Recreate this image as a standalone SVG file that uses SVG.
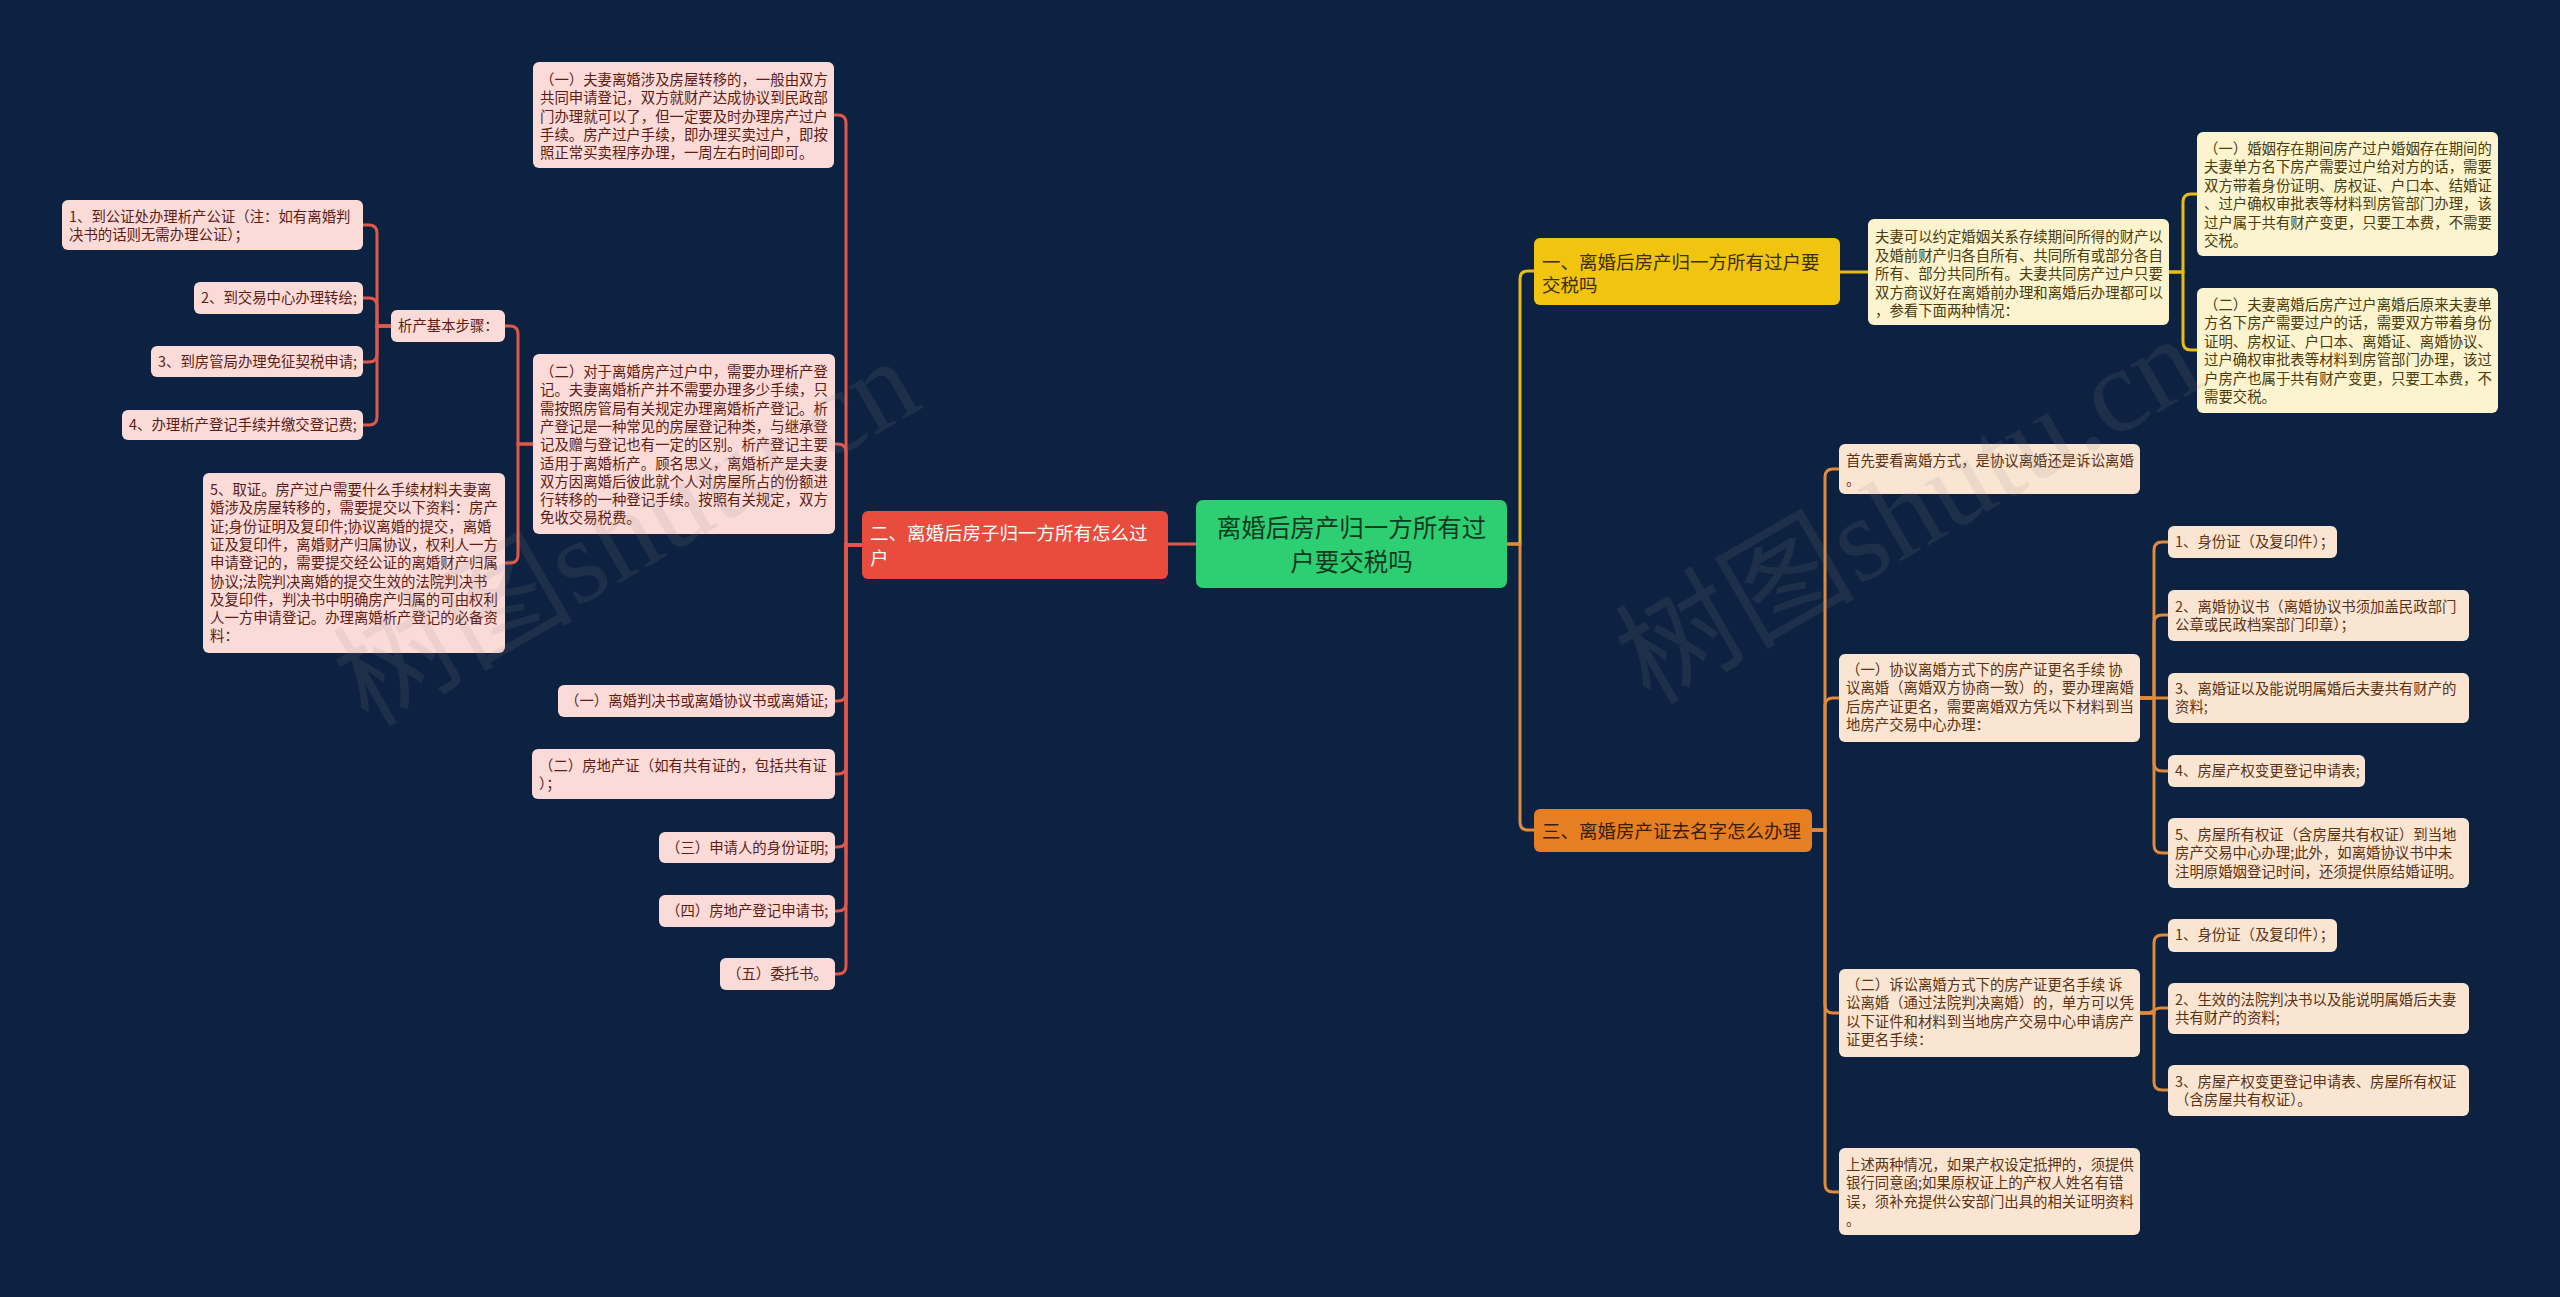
<svg xmlns="http://www.w3.org/2000/svg" width="2560" height="1297" viewBox="0 0 2560 1297">
<style>
text{font-family:"Noto Sans CJK SC","Noto Sans",sans-serif;}
.t{font-size:14.4px;}
.big{font-size:18.5px;}
.rb{fill:#fadbd8;}
.rt{fill:#5e1c14;}
.yb{fill:#fcf3cf;}
.yt{fill:#4a3c0c;}
.ob{fill:#fae5d3;}
.ot{fill:#5b3212;}
.cr{fill:none;stroke:#e0584a;stroke-width:3;}
.cy{fill:none;stroke:#e8bd17;stroke-width:3;}
.co{fill:none;stroke:#e08a3c;stroke-width:3;}
.wm{font-family:"Liberation Serif","Noto Sans CJK SC",serif;font-size:120px;fill:#8a8a8a;opacity:0.13;}
</style>
<rect width="2560" height="1297" fill="#0d2240"/>

<g id="connectors">
<path class="cr" d="M1196 544 H1168"/>
<path class="cy" d="M1507 544 H1520 V279 Q1520 271 1528 271 H1534"/>
<path class="co" d="M1507 544 H1520 V822 Q1520 830 1528 830 H1534"/>
<path class="cy" d="M1840 272 H1868"/>
<path class="cy" d="M2169 272 H2183 V202 Q2183 194 2191 194 H2197"/>
<path class="cy" d="M2169 272 H2183 V342 Q2183 350 2191 350 H2197"/>
<path class="co" d="M1812 830 H1825 V477 Q1825 469 1833 469 H1839"/>
<path class="co" d="M1812 830 H1825 V706 Q1825 698 1833 698 H1839"/>
<path class="co" d="M1812 830 H1825 V1005 Q1825 1013 1833 1013 H1839"/>
<path class="co" d="M1812 830 H1825 V1184 Q1825 1192 1833 1192 H1839"/>
<path class="co" d="M2140 698 H2154 V550 Q2154 542 2162 542 H2168"/>
<path class="co" d="M2140 698 H2154 V623 Q2154 615 2162 615 H2168"/>
<path class="co" d="M2140 698 H2168"/>
<path class="co" d="M2140 698 H2154 V763 Q2154 771 2162 771 H2168"/>
<path class="co" d="M2140 698 H2154 V845 Q2154 853 2162 853 H2168"/>
<path class="co" d="M2140 1013 H2154 V943 Q2154 935 2162 935 H2168"/>
<path class="co" d="M2140 1013 H2148 C2154 1013 2154 1008 2160 1008 H2168"/>
<path class="co" d="M2140 1013 H2154 V1082 Q2154 1090 2162 1090 H2168"/>
<path class="cr" d="M862 545 H846 V123 Q846 115 838 115 H834"/>
<path class="cr" d="M862 545 H846 V452 Q846 444 838 444 H835"/>
<path class="cr" d="M862 545 H846 V693 Q846 701 838 701 H835"/>
<path class="cr" d="M862 545 H846 V766 Q846 774 838 774 H835"/>
<path class="cr" d="M862 545 H846 V839 Q846 847 838 847 H835"/>
<path class="cr" d="M862 545 H846 V903 Q846 911 838 911 H835"/>
<path class="cr" d="M862 545 H846 V966 Q846 974 838 974 H835"/>
<path class="cr" d="M533 444 H518 V334 Q518 326 510 326 H505"/>
<path class="cr" d="M533 444 H518 V555 Q518 563 510 563 H505"/>
<path class="cr" d="M391 326 H377 V233 Q377 225 369 225 H363"/>
<path class="cr" d="M391 326 H377 V306 Q377 298 369 298 H363"/>
<path class="cr" d="M391 326 H377 V354 Q377 362 369 362 H363"/>
<path class="cr" d="M391 326 H377 V417 Q377 425 369 425 H363"/>
</g>

<g id="root">
<rect x="1196" y="500" width="311" height="88" rx="7" fill="#2ecf72"/>
<text x="1351.5" y="537" text-anchor="middle" font-size="24.5" fill="#0e3a1f">离婚后房产归一方所有过</text>
<text x="1351.5" y="571" text-anchor="middle" font-size="24.5" fill="#0e3a1f">户要交税吗</text>
</g>

<g id="branch-red">
<rect x="862" y="511" width="306" height="68" rx="6" fill="#e74c3c"/>
<text class="big" x="870" y="540" fill="#ffffff">二、离婚后房子归一方所有怎么过</text>
<text class="big" x="870" y="565" fill="#ffffff">户</text>
</g>

<g id="branch-yellow">
<rect x="1534" y="238" width="306" height="67" rx="6" fill="#f1c40f"/>
<text class="big" x="1542" y="269" fill="#3a2e00">一、离婚后房产归一方所有过户要</text>
<text class="big" x="1542" y="292" fill="#3a2e00">交税吗</text>
</g>

<g id="branch-orange">
<rect x="1534" y="809" width="278" height="43" rx="6" fill="#e67e22"/>
<text class="big" x="1542" y="838" fill="#3a1c02">三、离婚房产证去名字怎么办理</text>
</g>

<g id="y0">
<rect class="yb" x="1868" y="219" width="301" height="106" rx="6"/>
<text class="t yt"><tspan x="1875" y="242">夫妻可以约定婚姻关系存续期间所得的财产以</tspan><tspan x="1875" y="260.5">及婚前财产归各自所有、共同所有或部分各自</tspan><tspan x="1875" y="279">所有、部分共同所有。夫妻共同房产过户只要</tspan><tspan x="1875" y="297.5">双方商议好在离婚前办理和离婚后办理都可以</tspan><tspan x="1875" y="316">，参看下面两种情况：</tspan></text>
</g>
<g id="y1">
<rect class="yb" x="2197" y="132" width="301" height="124" rx="6"/>
<text class="t yt"><tspan x="2204" y="154">（一）婚姻存在期间房产过户婚姻存在期间的</tspan><tspan x="2204" y="172.4">夫妻单方名下房产需要过户给对方的话，需要</tspan><tspan x="2204" y="190.8">双方带着身份证明、房权证、户口本、结婚证</tspan><tspan x="2204" y="209.2">、过户确权审批表等材料到房管部门办理，该</tspan><tspan x="2204" y="227.6">过户属于共有财产变更，只要工本费，不需要</tspan><tspan x="2204" y="246">交税。</tspan></text>
</g>
<g id="y2">
<rect class="yb" x="2197" y="288" width="301" height="125" rx="6"/>
<text class="t yt"><tspan x="2204" y="310">（二）夫妻离婚后房产过户离婚后原来夫妻单</tspan><tspan x="2204" y="328.4">方名下房产需要过户的话，需要双方带着身份</tspan><tspan x="2204" y="346.8">证明、房权证、户口本、离婚证、离婚协议、</tspan><tspan x="2204" y="365.2">过户确权审批表等材料到房管部门办理，该过</tspan><tspan x="2204" y="383.6">户房产也属于共有财产变更，只要工本费，不</tspan><tspan x="2204" y="402">需要交税。</tspan></text>
</g>

<g id="o1">
<rect class="ob" x="1839" y="444" width="301" height="50" rx="6"/>
<text class="t ot"><tspan x="1846" y="466">首先要看离婚方式，是协议离婚还是诉讼离婚</tspan><tspan x="1846" y="485">。</tspan></text>
</g>
<g id="o2">
<rect class="ob" x="1839" y="654" width="301" height="88" rx="6"/>
<text class="t ot"><tspan x="1846" y="675">（一）协议离婚方式下的房产证更名手续 协</tspan><tspan x="1846" y="693.4">议离婚（离婚双方协商一致）的，要办理离婚</tspan><tspan x="1846" y="711.8">后房产证更名，需要离婚双方凭以下材料到当</tspan><tspan x="1846" y="730.2">地房产交易中心办理：</tspan></text>
</g>
<g id="o2a">
<rect class="ob" x="2168" y="526" width="169" height="32" rx="6"/>
<text class="t ot" x="2175" y="547">1、身份证（及复印件）；</text>
</g>
<g id="o2b">
<rect class="ob" x="2168" y="590" width="301" height="51" rx="6"/>
<text class="t ot"><tspan x="2175" y="612">2、离婚协议书（离婚协议书须加盖民政部门</tspan><tspan x="2175" y="630.4">公章或民政档案部门印章）；</tspan></text>
</g>
<g id="o2c">
<rect class="ob" x="2168" y="673" width="301" height="50" rx="6"/>
<text class="t ot"><tspan x="2175" y="694">3、离婚证以及能说明属婚后夫妻共有财产的</tspan><tspan x="2175" y="712.4">资料;</tspan></text>
</g>
<g id="o2d">
<rect class="ob" x="2168" y="755" width="197" height="32" rx="6"/>
<text class="t ot" x="2175" y="776">4、房屋产权变更登记申请表;</text>
</g>
<g id="o2e">
<rect class="ob" x="2168" y="818" width="301" height="70" rx="6"/>
<text class="t ot"><tspan x="2175" y="840">5、房屋所有权证（含房屋共有权证）到当地</tspan><tspan x="2175" y="858.4">房产交易中心办理;此外，如离婚协议书中未</tspan><tspan x="2175" y="876.8">注明原婚姻登记时间，还须提供原结婚证明。</tspan></text>
</g>
<g id="o3">
<rect class="ob" x="1839" y="969" width="301" height="88" rx="6"/>
<text class="t ot"><tspan x="1846" y="990">（二）诉讼离婚方式下的房产证更名手续 诉</tspan><tspan x="1846" y="1008.4">讼离婚（通过法院判决离婚）的，单方可以凭</tspan><tspan x="1846" y="1026.8">以下证件和材料到当地房产交易中心申请房产</tspan><tspan x="1846" y="1045.2">证更名手续：</tspan></text>
</g>
<g id="o3a">
<rect class="ob" x="2168" y="919" width="169" height="33" rx="6"/>
<text class="t ot" x="2175" y="940">1、身份证（及复印件）；</text>
</g>
<g id="o3b">
<rect class="ob" x="2168" y="983" width="301" height="51" rx="6"/>
<text class="t ot"><tspan x="2175" y="1005">2、生效的法院判决书以及能说明属婚后夫妻</tspan><tspan x="2175" y="1023.4">共有财产的资料;</tspan></text>
</g>
<g id="o3c">
<rect class="ob" x="2168" y="1065" width="301" height="51" rx="6"/>
<text class="t ot"><tspan x="2175" y="1087">3、房屋产权变更登记申请表、房屋所有权证</tspan><tspan x="2175" y="1105.4">（含房屋共有权证）。</tspan></text>
</g>
<g id="o4">
<rect class="ob" x="1839" y="1148" width="301" height="87" rx="6"/>
<text class="t ot"><tspan x="1846" y="1170">上述两种情况，如果产权设定抵押的，须提供</tspan><tspan x="1846" y="1188.4">银行同意函;如果原权证上的产权人姓名有错</tspan><tspan x="1846" y="1206.8">误，须补充提供公安部门出具的相关证明资料</tspan><tspan x="1846" y="1225.2">。</tspan></text>
</g>

<g id="r-a">
<rect class="rb" x="533" y="62" width="301" height="106" rx="6"/>
<text class="t rt"><tspan x="540" y="85">（一）夫妻离婚涉及房屋转移的，一般由双方</tspan><tspan x="540" y="103.3">共同申请登记，双方就财产达成协议到民政部</tspan><tspan x="540" y="121.6">门办理就可以了，但一定要及时办理房产过户</tspan><tspan x="540" y="139.9">手续。房产过户手续，即办理买卖过户，即按</tspan><tspan x="540" y="158.2">照正常买卖程序办理，一周左右时间即可。</tspan></text>
</g>
<g id="r-b">
<rect class="rb" x="533" y="354" width="302" height="180" rx="6"/>
<text class="t rt"><tspan x="540" y="377">（二）对于离婚房产过户中，需要办理析产登</tspan><tspan x="540" y="395.3">记。夫妻离婚析产并不需要办理多少手续，只</tspan><tspan x="540" y="413.6">需按照房管局有关规定办理离婚析产登记。析</tspan><tspan x="540" y="431.9">产登记是一种常见的房屋登记种类，与继承登</tspan><tspan x="540" y="450.2">记及赠与登记也有一定的区别。析产登记主要</tspan><tspan x="540" y="468.5">适用于离婚析产。顾名思义，离婚析产是夫妻</tspan><tspan x="540" y="486.8">双方因离婚后彼此就个人对房屋所占的份额进</tspan><tspan x="540" y="505.1">行转移的一种登记手续。按照有关规定，双方</tspan><tspan x="540" y="523.4">免收交易税费。</tspan></text>
</g>
<g id="r-c">
<rect class="rb" x="391" y="310" width="114" height="32" rx="6"/>
<text class="t rt" x="398" y="331">析产基本步骤：</text>
</g>
<g id="r-d1">
<rect class="rb" x="62" y="200" width="301" height="50" rx="6"/>
<text class="t rt"><tspan x="69" y="222">1、到公证处办理析产公证（注：如有离婚判</tspan><tspan x="69" y="240.3">决书的话则无需办理公证）；</tspan></text>
</g>
<g id="r-d2">
<rect class="rb" x="194" y="282" width="169" height="32" rx="6"/>
<text class="t rt" x="201" y="303">2、到交易中心办理转绘;</text>
</g>
<g id="r-d3">
<rect class="rb" x="151" y="346" width="212" height="31" rx="6"/>
<text class="t rt" x="158" y="367">3、到房管局办理免征契税申请;</text>
</g>
<g id="r-d4">
<rect class="rb" x="122" y="410" width="241" height="30" rx="6"/>
<text class="t rt" x="129" y="430">4、办理析产登记手续并缴交登记费;</text>
</g>
<g id="r-e">
<rect class="rb" x="203" y="473" width="302" height="180" rx="6"/>
<text class="t rt"><tspan x="210" y="495">5、取证。房产过户需要什么手续材料夫妻离</tspan><tspan x="210" y="513.3">婚涉及房屋转移的，需要提交以下资料：房产</tspan><tspan x="210" y="531.6">证;身份证明及复印件;协议离婚的提交，离婚</tspan><tspan x="210" y="549.9">证及复印件，离婚财产归属协议，权利人一方</tspan><tspan x="210" y="568.2">申请登记的，需要提交经公证的离婚财产归属</tspan><tspan x="210" y="586.5">协议;法院判决离婚的提交生效的法院判决书</tspan><tspan x="210" y="604.8">及复印件，判决书中明确房产归属的可由权利</tspan><tspan x="210" y="623.1">人一方申请登记。办理离婚析产登记的必备资</tspan><tspan x="210" y="641.4">料：</tspan></text>
</g>
<g id="r-f1">
<rect class="rb" x="558" y="685" width="277" height="32" rx="6"/>
<text class="t rt" x="565" y="706">（一）离婚判决书或离婚协议书或离婚证;</text>
</g>
<g id="r-f2">
<rect class="rb" x="532" y="749" width="303" height="50" rx="6"/>
<text class="t rt"><tspan x="539" y="771">（二）房地产证（如有共有证的，包括共有证</tspan><tspan x="539" y="789.3">）；</tspan></text>
</g>
<g id="r-f3">
<rect class="rb" x="659" y="832" width="176" height="31" rx="6"/>
<text class="t rt" x="666" y="853">（三）申请人的身份证明;</text>
</g>
<g id="r-f4">
<rect class="rb" x="659" y="895" width="176" height="32" rx="6"/>
<text class="t rt" x="666" y="916">（四）房地产登记申请书;</text>
</g>
<g id="r-f5">
<rect class="rb" x="720" y="958" width="115" height="32" rx="6"/>
<text class="t rt" x="727" y="979">（五）委托书。</text>
</g>

<text class="wm" x="368" y="728" transform="rotate(-30 368 728)">树图shutu.cn</text>
<text class="wm" x="1650" y="706" transform="rotate(-30 1650 706)">树图shutu.cn</text>
</svg>
